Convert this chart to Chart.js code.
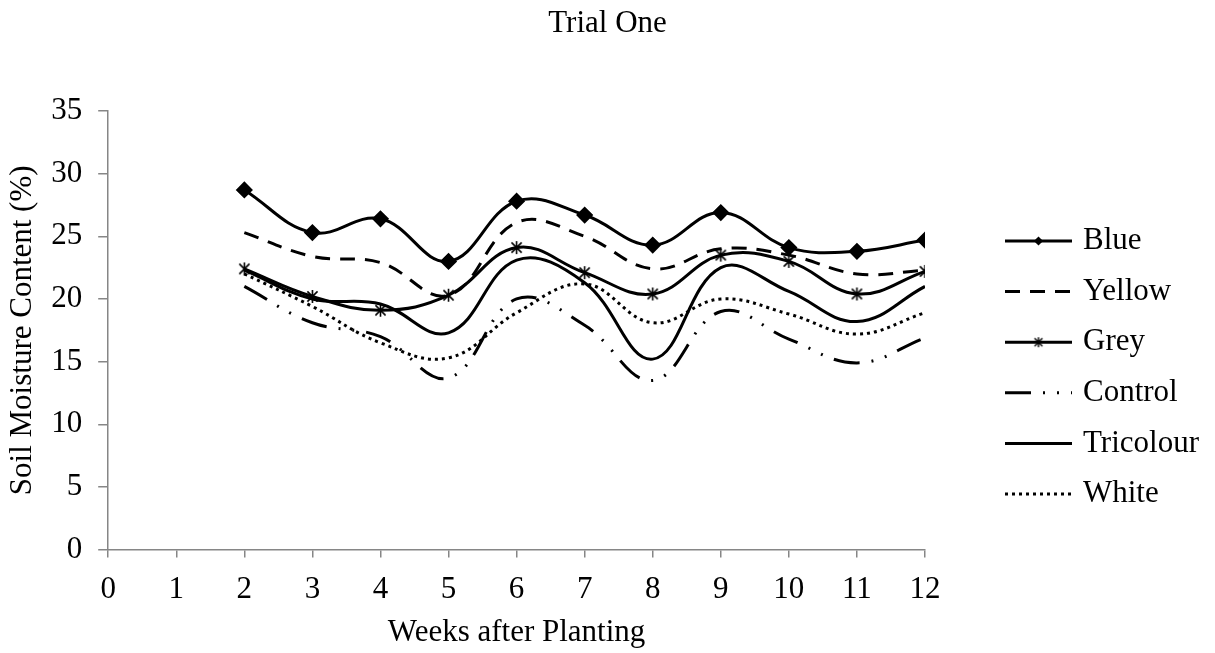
<!DOCTYPE html>
<html>
<head>
<meta charset="utf-8">
<title>Trial One</title>
<script src="https://cdn.jsdelivr.net/npm/chart.js@4.4.1/dist/chart.umd.min.js"></script>
<style>
  html, body { margin: 0; padding: 0; background: #fff; }
  #wrap { width: 1215px; height: 653px; }
</style>
</head>
<body>
<div id="wrap"><canvas id="trialChart" width="1215" height="653"></canvas></div>
<script>
// weeks after planting and soil moisture (%) per mulch colour
const weeks = [2, 3, 4, 5, 6, 7, 8, 9, 10, 11, 12];
const blue = [28.7, 25.3, 26.4, 23.0, 27.8, 26.7, 24.3, 26.9, 24.1, 23.8, 24.7];
const yellow = [25.3, 23.4, 22.9, 20.3, 26.1, 25.0, 22.4, 24.0, 23.5, 22.0, 22.3];
const grey = [22.4, 20.2, 19.1, 20.3, 24.1, 22.1, 20.4, 23.5, 23.0, 20.4, 22.2];
const control = [21.0, 18.1, 17.0, 13.7, 20.0, 17.9, 13.5, 19.0, 16.8, 14.9, 16.9];
const tricolour = [22.3, 20.0, 19.6, 17.3, 23.1, 21.3, 15.2, 22.5, 20.6, 18.2, 21.0];
const white = [22.0, 19.4, 16.5, 15.3, 18.9, 21.2, 18.1, 20.0, 18.8, 17.2, 18.9];

const yTicks = { min: 0, max: 35, step: 5 };
const xTicks = { min: 0, max: 12, step: 1 };

const chartTitle = 'Trial One';

const FONT = "'Liberation Serif', 'Times New Roman', serif";
const AXIS_GREY = '#868686';

Chart.defaults.font.family = FONT;
Chart.defaults.color = '#000';

// asterisk marker (X with a vertical stroke)
function asterisk(size, lw) {
  const c = document.createElement('canvas');
  c.width = c.height = size;
  const g = c.getContext('2d');
  const m = size / 2, r = size / 2 - 1, d = r * 0.78;
  g.strokeStyle = '#000';
  g.lineWidth = lw;
  g.beginPath();
  g.moveTo(m - d, m - d); g.lineTo(m + d, m + d);
  g.moveTo(m + d, m - d); g.lineTo(m - d, m + d);
  g.moveTo(m, m - r); g.lineTo(m, m + r);
  g.stroke();
  return c;
}

const starBig = asterisk(15, 1.6);
const starSmall = asterisk(12, 1.4);

const toPoints = (vals) => vals.map((v, i) => ({ x: weeks[i], y: v }));

const series = (label, vals, extra) => Object.assign({
  label: label,
  data: toPoints(vals),
  borderColor: '#000',
  backgroundColor: '#000',
  borderWidth: 3,
  pointRadius: 0,
  pointHoverRadius: 0,
  fill: false,
  tension: 0.4
}, extra);

const datasets = [
  series('Blue', blue, { pointStyle: 'rectRot', pointRadius: 6.5, legendPoint: { pointStyle: 'rectRot', radius: 4.6 } }),
  series('Yellow', yellow, { borderDash: [15, 10] }),
  series('Grey', grey, { pointStyle: starBig, pointRadius: 6, legendPoint: { pointStyle: starSmall, radius: 5 } }),
  series('Control', control, { borderDash: [26, 12, 2, 12, 2, 12] }),
  series('Tricolour', tricolour, {}),
  series('White', white, { borderDash: [3, 4] })
];

// title centred on the whole canvas, legend stacked right of the plot
const sideLegend = {
  id: 'sideLegend',
  afterDraw(chart) {
    const ctx = chart.ctx;
    const area = chart.chartArea;

    ctx.save();
    ctx.fillStyle = '#000';
    ctx.font = '31px ' + FONT;
    ctx.textAlign = 'center';
    ctx.textBaseline = 'middle';
    ctx.fillText(chartTitle, chart.width / 2, 24);
    ctx.restore();

    const x0 = area.right + 80, x1 = x0 + 67, tx = x1 + 11;
    chart.data.datasets.forEach((ds, i) => {
      const y = area.top + 130 + i * 50.6;
      ctx.save();
      ctx.strokeStyle = '#000';
      ctx.lineWidth = ds.borderWidth;
      ctx.setLineDash(ds.borderDash || []);
      ctx.beginPath();
      ctx.moveTo(x0, y);
      ctx.lineTo(x1, y);
      ctx.stroke();
      ctx.setLineDash([]);
      if (ds.legendPoint) {
        ctx.fillStyle = '#000';
        ctx.lineWidth = 0;
        Chart.helpers.drawPoint(ctx, {
          pointStyle: ds.legendPoint.pointStyle,
          radius: ds.legendPoint.radius,
          rotation: 0,
          borderWidth: 0
        }, (x0 + x1) / 2, y);
      }
      ctx.fillStyle = '#000';
      ctx.font = '31px ' + FONT;
      ctx.textAlign = 'left';
      ctx.textBaseline = 'middle';
      ctx.fillText(ds.label, tx, y);
      ctx.restore();
    });
  }
};

new Chart(document.getElementById('trialChart'), {
  type: 'line',
  data: { datasets: datasets },
  plugins: [sideLegend],
  options: {
    responsive: false,
    animation: false,
    layout: { padding: { left: 0, right: 290, top: 111, bottom: 0 } },
    plugins: {
      legend: { display: false },
      tooltip: { enabled: false },
      title: { display: false }
    },
    scales: {
      x: {
        type: 'linear',
        min: xTicks.min,
        max: xTicks.max,
        ticks: { stepSize: xTicks.step, font: { size: 31 }, color: '#000', padding: 14 },
        grid: { drawOnChartArea: false, drawTicks: true, tickLength: 8, color: AXIS_GREY, lineWidth: 1.5 },
        border: { display: true, color: AXIS_GREY, width: 1.5 },
        title: {
          display: true,
          text: 'Weeks after Planting',
          color: '#000',
          font: { size: 31 },
          padding: { top: -9, bottom: 2 }
        }
      },
      y: {
        min: yTicks.min,
        max: yTicks.max,
        ticks: { stepSize: yTicks.step, font: { size: 31 }, color: '#000', padding: 16 },
        grid: { drawOnChartArea: false, drawTicks: true, tickLength: 10, color: AXIS_GREY, lineWidth: 1.5 },
        border: { display: true, color: AXIS_GREY, width: 1.5 },
        title: {
          display: true,
          text: 'Soil Moisture Content (%)',
          color: '#000',
          font: { size: 31 },
          padding: { top: 4, bottom: -6 }
        }
      }
    }
  }
});
</script>
</body>
</html>
